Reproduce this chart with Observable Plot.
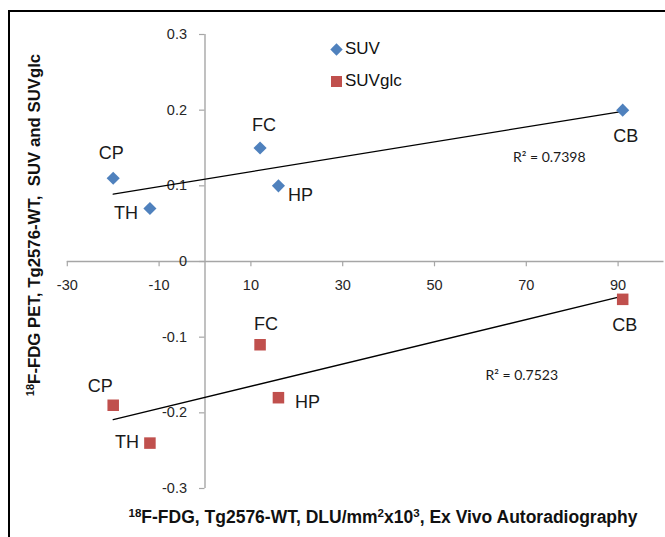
<!DOCTYPE html>
<html>
<head>
<meta charset="utf-8">
<script src="https://cdn.jsdelivr.net/npm/d3@7"></script>
<script src="https://cdn.jsdelivr.net/npm/@observablehq/plot@0.6"></script>
<style>
  body { margin: 0; background: #fff; font-family: "Liberation Sans", Arial, sans-serif; }
  #wrap { position: relative; width: 665px; height: 537px; overflow: hidden; }
  #frame { position: absolute; left: 8px; top: 10px; width: 700px; height: 600px;
           border-top: 2.5px solid #000; border-left: 2.5px solid #000; pointer-events: none; }
  .ttl { position: absolute; font-weight: bold; font-size: 16.8px; color: #111; white-space: nowrap; }
  .ttl sup { font-size: 0.66em; vertical-align: 0.5em; line-height: 0; }
  #ytitle { left: 35px; top: 225px; transform: translate(-50%, -50%) rotate(-90deg); }
  #xtitle { left: 383px; top: 517px; font-size: 17.5px; transform: translate(-50%, -50%); }
  .leg { position: absolute; font-size: 17px; color: #111; display: flex; align-items: center; }
  .leg svg { margin-right: 2px; }
</style>
</head>
<body>
<div id="wrap">
  <div id="chart"></div>
  <div id="frame"></div>
  <div class="ttl" id="ytitle"><sup>18</sup>F-FDG PET, Tg2576-WT,&nbsp; SUV and SUVglc</div>
  <div class="ttl" id="xtitle"><sup>18</sup>F-FDG, Tg2576-WT, DLU/mm<sup>2</sup>x10<sup>3</sup>, Ex Vivo Autoradiography</div>
  <div class="leg" style="left:330px; top:39px;"><svg width="13" height="13" viewBox="-6.5 -6.5 13 13"><path d="M0,-6.2L6.2,0L0,6.2L-6.2,0Z" fill="#4F81BD"/></svg>SUV</div>
  <div class="leg" style="left:330px; top:71px;"><svg width="13" height="13" viewBox="-6.5 -6.5 13 13"><rect x="-5.5" y="-5.5" width="11" height="11" fill="#C0504D"/></svg>SUVglc</div>
</div>
<script>
// ---- data ----
const regions = ["CP", "TH", "FC", "HP", "CB"];
const dlu     = [-20, -12, 12, 16, 91];          // x: DLU/mm² x10³
const suv     = [0.11, 0.07, 0.15, 0.10, 0.20];  // SUV
const suvglc  = [-0.19, -0.24, -0.11, -0.18, -0.05]; // SUVglc
const seriesNames = ["SUV", "SUVglc"];
const seriesColors = ["#4F81BD", "#C0504D"];
const xTicks = [-30, -10, 10, 30, 50, 70, 90];
const yTicks = [-0.3, -0.2, -0.1, 0, 0.1, 0.2, 0.3];
const r2Labels = ["R² = 0.7398", "R² = 0.7523"];

const rows = [];
regions.forEach((r, i) => {
  rows.push({region: r, series: "SUV", x: dlu[i], y: suv[i]});
  rows.push({region: r, series: "SUVglc", x: dlu[i], y: suvglc[i]});
});
const sv = rows.filter(d => d.series === "SUV");
const sg = rows.filter(d => d.series === "SUVglc");

const axisColor = "#A6A6A6";
const labFont = {fontSize: 18, fill: "#1a1a1a", fontFamily: "Liberation Sans, Arial, sans-serif"};

function lab(data, region, dx, dy) {
  return Plot.text(data.filter(d => d.region === region),
    {x: "x", y: "y", text: "region", dx, dy, ...labFont});
}

const chart = Plot.plot({
  width: 665,
  height: 537,
  margin: 0,
  style: {background: "transparent", fontFamily: "Liberation Sans, Arial, sans-serif"},
  x: {domain: [-30, 100], range: [66.8, 663.5], axis: null},
  y: {domain: [-0.3, 0.3], range: [488, 34], axis: null},
  symbol: {domain: seriesNames, range: ["diamond2", "square"]},
  color: {domain: seriesNames, range: seriesColors},
  marks: [
    // axes through zero
    Plot.ruleY([0], {x1: -30, x2: 100, stroke: axisColor, strokeWidth: 1.4}),
    Plot.ruleX([0], {y1: -0.3, y2: 0.3, stroke: axisColor, strokeWidth: 1.4}),
    Plot.ruleX(xTicks, {x: d => d, y1: 0, y2: -0.007, stroke: axisColor, strokeWidth: 1.2}),
    Plot.ruleY(yTicks, {y: d => d, x1: 0, x2: -1.2, stroke: axisColor, strokeWidth: 1.2}),
    Plot.text(xTicks, {x: d => d, y: 0, dy: 24, text: d => String(d), fontSize: 14.5, fill: "#262626"}),
    Plot.text(yTicks, {x: 0, y: d => d, dx: -18, textAnchor: "end",
      text: d => d === 0 ? "0" : d.toFixed(1), fontSize: 14.5, fill: "#262626"}),
    // trend lines
    Plot.linearRegressionY(sv, {x: "x", y: "y", stroke: "#000", strokeWidth: 1.3, ci: 0}),
    Plot.linearRegressionY(sg, {x: "x", y: "y", stroke: "#000", strokeWidth: 1.3, ci: 0}),
    // points
    Plot.dot(sv, {x: "x", y: "y", symbol: "series", fill: "series", r: 5.9}),
    Plot.dot(sg, {x: "x", y: "y", symbol: "series", fill: "series", r: 6.5}),
    // point labels (SUV)
    lab(sv, "CP", -2, -25), lab(sv, "TH", -24, 5), lab(sv, "FC", 4, -23),
    lab(sv, "HP", 22, 9), lab(sv, "CB", 3, 26),
    // point labels (SUVglc)
    lab(sg, "CP", -13, -19), lab(sg, "TH", -23, -1), lab(sg, "FC", 6, -20),
    lab(sg, "HP", 29, 5), lab(sg, "CB", 2, 26),
    // R² annotations
    Plot.text([r2Labels[0]], {x: 75, y: 0.137, text: d => d, fontSize: 14,
      fontFamily: "Lato, Carlito, sans-serif", fill: "#1a1a1a"}),
    Plot.text([r2Labels[1]], {x: 69, y: -0.1506, text: d => d, fontSize: 14,
      fontFamily: "Lato, Carlito, sans-serif", fill: "#1a1a1a"})
  ]
});
document.getElementById("chart").appendChild(chart);
</script>
</body>
</html>
